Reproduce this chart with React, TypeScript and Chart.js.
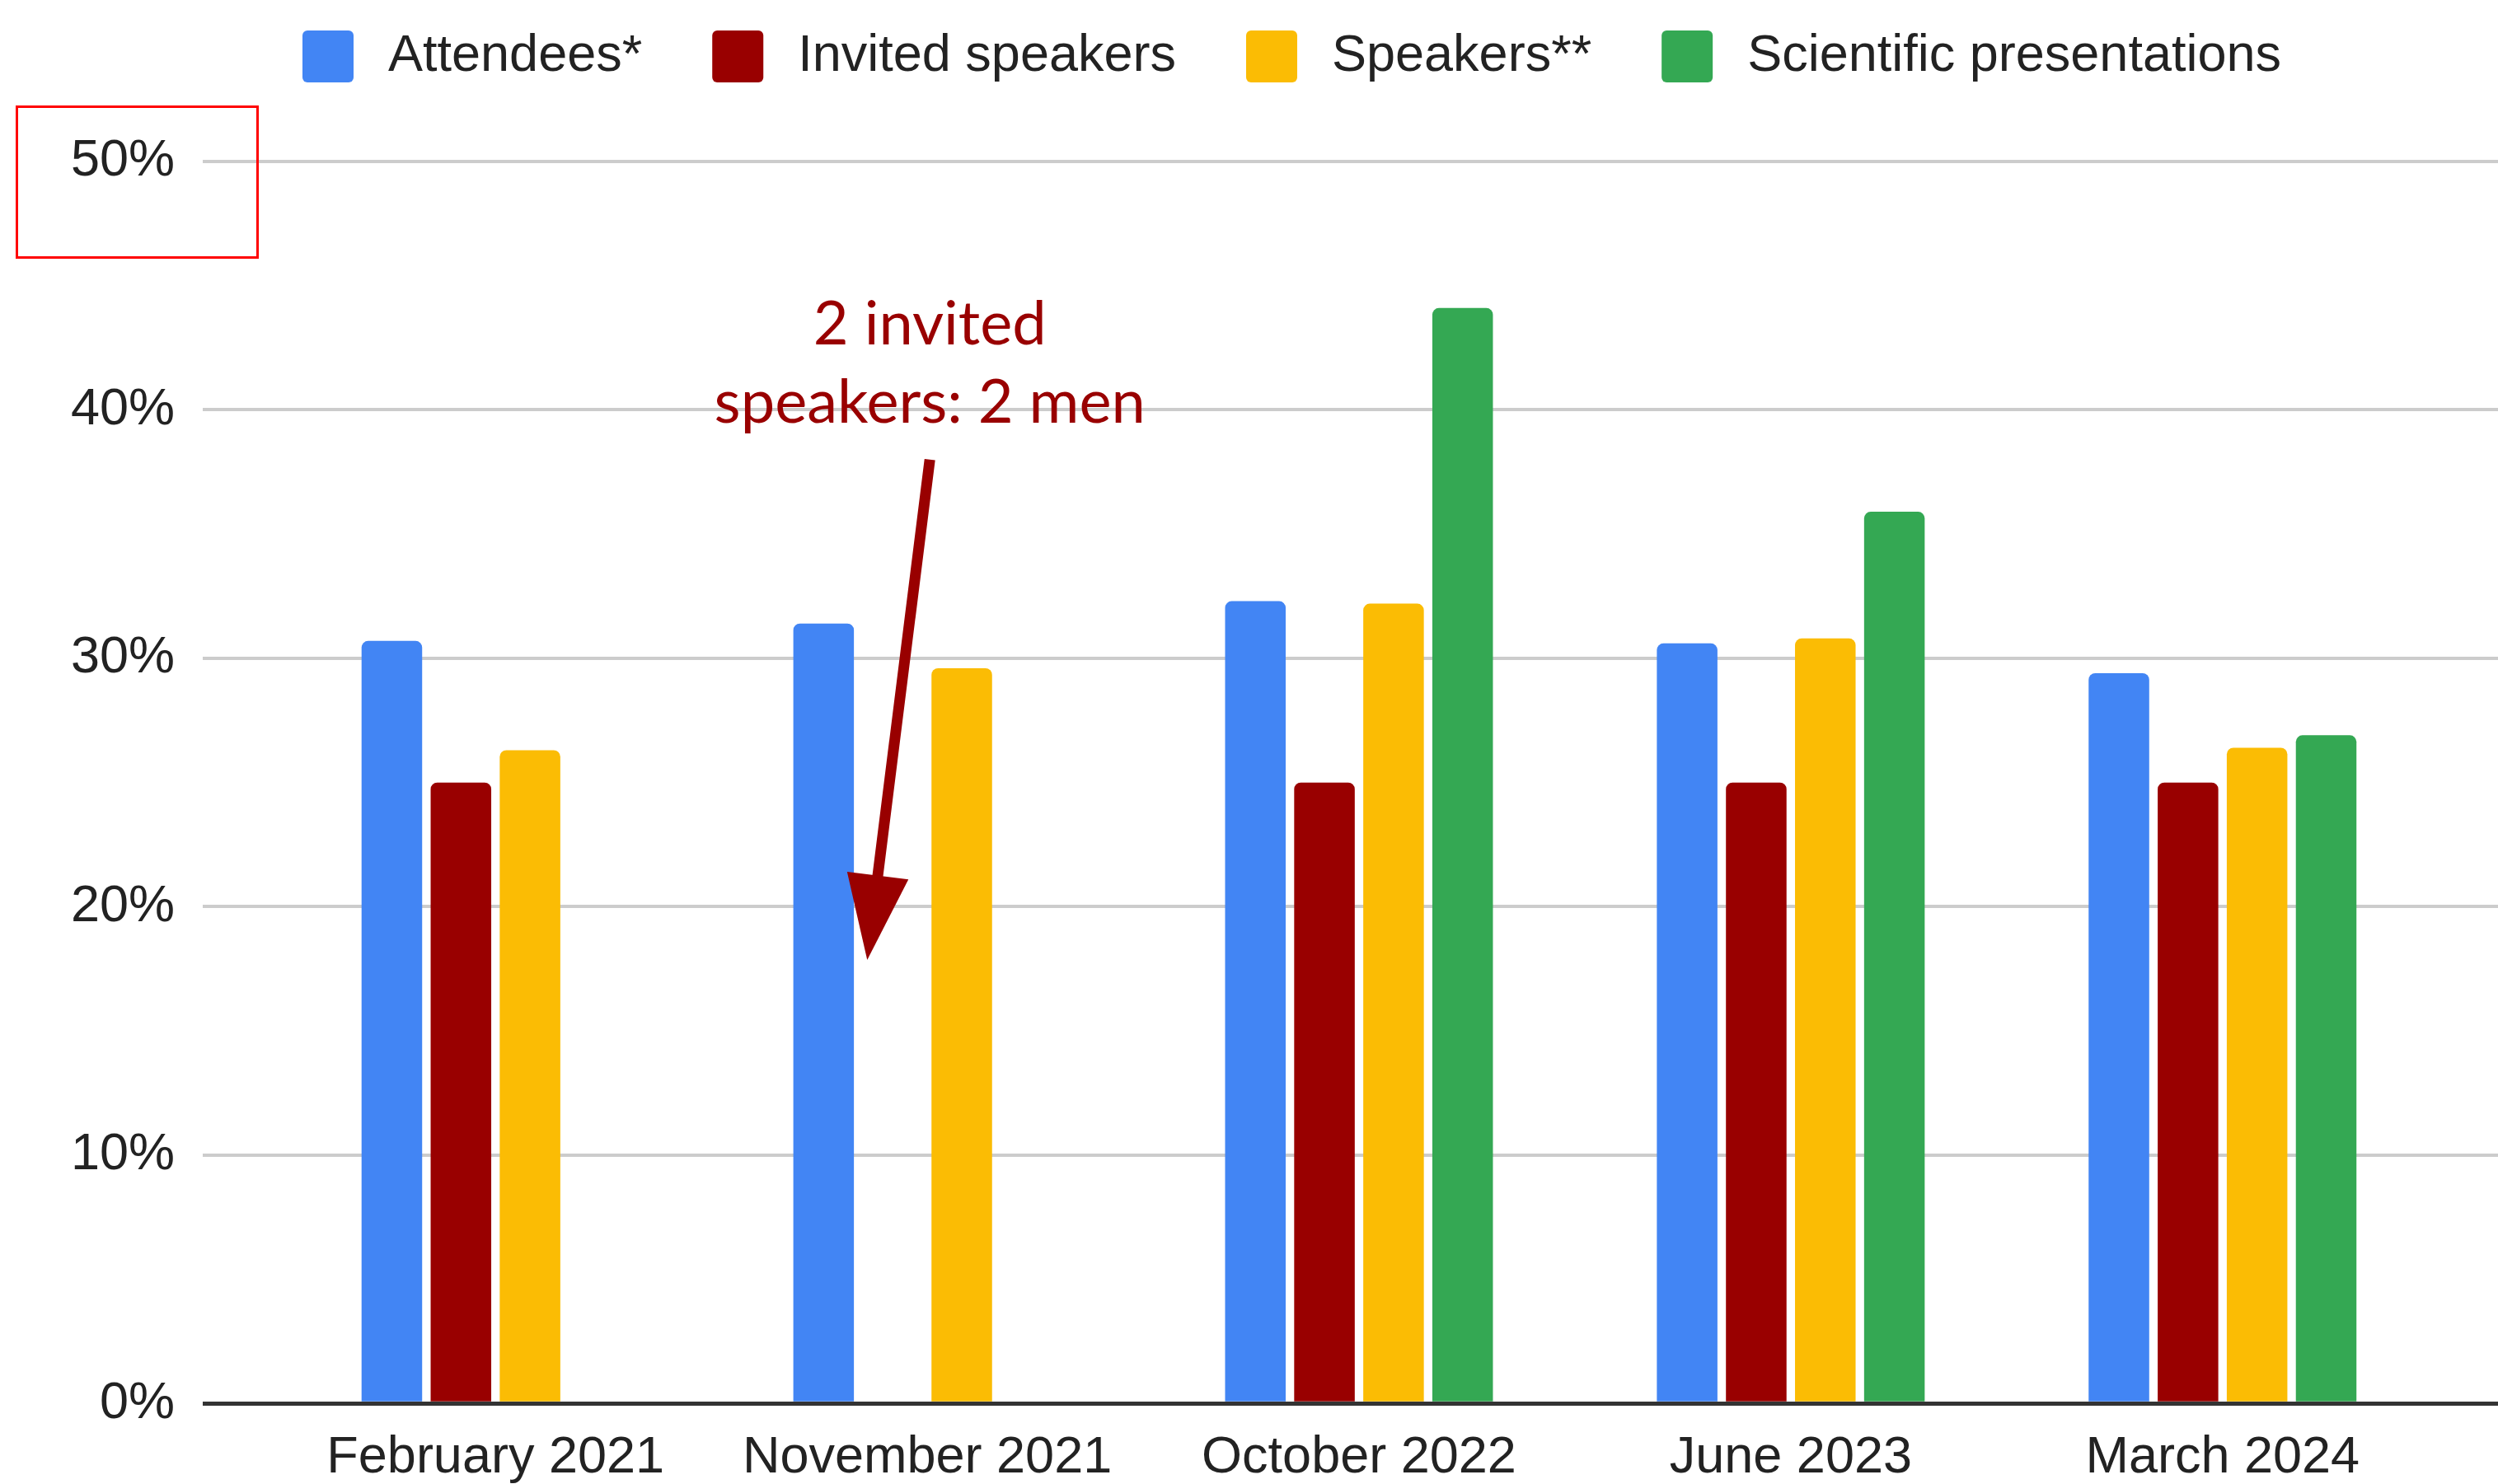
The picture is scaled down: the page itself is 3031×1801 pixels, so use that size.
import React, { useEffect, useRef } from "react";
import { Chart, registerables } from "chart.js";

Chart.register(...registerables);

// ---- data ----
const CATEGORIES = ["February 2021", "November 2021", "October 2022", "June 2023", "March 2024"];
const SERIES_NAMES = ["Attendees*", "Invited speakers", "Speakers**", "Scientific presentations"];
const SERIES_COLORS = ["#4285F4", "#990000", "#FBBC04", "#34A853"];
const ATTENDEES = [30.7, 31.4, 32.3, 30.6, 29.4];
const INVITED_SPEAKERS = [25, 0, 25, 25, 25];
const SPEAKERS = [26.3, 29.6, 32.2, 30.8, 26.4];
const SCIENTIFIC_PRESENTATIONS: (number | null)[] = [null, null, 44.1, 35.9, 26.9];
const SERIES_VALUES = [ATTENDEES, INVITED_SPEAKERS, SPEAKERS, SCIENTIFIC_PRESENTATIONS];
const Y_TICK_STEP = 10;
const Y_MAX = 50;

// Note pointing at the empty November 2021 slot (positions in data units)
const NOTE_LINES = ["2 invited", "speakers: 2 men"];
const NOTE_TEXT_X = 1.006;
const NOTE_LINE_Y = [42.65, 39.48];
const NOTE_ARROW_FROM = { x: 1.006, y: 38.0 };
const NOTE_ARROW_TO = { x: 0.861, y: 17.86 };

// ---- styling ----
const FONT = '"Liberation Sans", Arial, sans-serif';
const NOTE_FONT = '"Lato", "Open Sans", sans-serif';
const TEXT_COLOR = "#222222";
const NOTE_COLOR = "#990000";
const WIDTH = 3031;
const HEIGHT = 1801;

const legendPlugin = {
  id: "topLegend",
  afterDraw(chart: any) {
    const ctx: CanvasRenderingContext2D = chart.ctx;
    ctx.save();
    ctx.font = `63px ${FONT}`;
    ctx.textBaseline = "alphabetic";
    ctx.textAlign = "left";
    let x = 367;
    chart.data.datasets.forEach((ds: any) => {
      ctx.fillStyle = ds.backgroundColor;
      ctx.beginPath();
      (ctx as any).roundRect(x, 37, 62, 63, 6);
      ctx.fill();
      x += 62 + 42;
      ctx.fillStyle = TEXT_COLOR;
      ctx.fillText(ds.label, x, 86);
      x += ctx.measureText(ds.label).width + 85;
    });
    ctx.restore();
  },
};

const notePlugin = {
  id: "note",
  afterDraw(chart: any) {
    const ctx: CanvasRenderingContext2D = chart.ctx;
    const xs = chart.scales.x;
    const ys = chart.scales.y;
    ctx.save();

    // highlight frame around the top tick label
    ctx.strokeStyle = "#ff0000";
    ctx.lineWidth = 3;
    ctx.strokeRect(20.5, 129.5, 292, 183);

    // note text
    ctx.fillStyle = NOTE_COLOR;
    ctx.font = `74px ${NOTE_FONT}`;
    ctx.textAlign = "center";
    ctx.textBaseline = "alphabetic";
    NOTE_LINES.forEach((line, i) => {
      ctx.fillText(line, xs.getPixelForValue(NOTE_TEXT_X), ys.getPixelForValue(NOTE_LINE_Y[i]));
    });

    // arrow
    const x1 = xs.getPixelForValue(NOTE_ARROW_FROM.x);
    const y1 = ys.getPixelForValue(NOTE_ARROW_FROM.y);
    const x2 = xs.getPixelForValue(NOTE_ARROW_TO.x);
    const y2 = ys.getPixelForValue(NOTE_ARROW_TO.y);
    const len = Math.hypot(x2 - x1, y2 - y1);
    const dx = (x2 - x1) / len;
    const dy = (y2 - y1) / len;
    const headLen = 103;
    const headHalf = 37.5;
    const bx = x2 - dx * headLen;
    const by = y2 - dy * headLen;
    ctx.strokeStyle = NOTE_COLOR;
    ctx.lineWidth = 13;
    ctx.lineCap = "butt";
    ctx.beginPath();
    ctx.moveTo(x1, y1);
    ctx.lineTo(bx + dx * 4, by + dy * 4);
    ctx.stroke();
    ctx.beginPath();
    ctx.moveTo(x2, y2);
    ctx.lineTo(bx - dy * headHalf, by + dx * headHalf);
    ctx.lineTo(bx + dy * headHalf, by - dx * headHalf);
    ctx.closePath();
    ctx.fill();

    ctx.restore();
  },
};

export default function App() {
  const canvasRef = useRef<HTMLCanvasElement | null>(null);

  useEffect(() => {
    const canvas = canvasRef.current;
    if (!canvas) return;

    const datasets = SERIES_NAMES.map((name, s) => ({
      label: name,
      data: SERIES_VALUES[s].map((v, i) => ({ x: i, y: v })),
      backgroundColor: SERIES_COLORS[s],
      borderWidth: 0,
      borderRadius: 8,
      borderSkipped: "start" as const,
      categoryPercentage: 0.64,
      barPercentage: 0.877,
    }));

    const chart = new Chart(canvas, {
      type: "bar",
      data: { datasets: datasets as any },
      options: {
        responsive: false,
        animation: false,
        devicePixelRatio: 1,
        layout: { padding: { top: 196, left: 0, right: 0, bottom: 0 } },
        plugins: {
          legend: { display: false },
          tooltip: { enabled: false },
        },
        scales: {
          x: {
            type: "linear",
            min: -0.678,
            max: 4.638,
            offset: false,
            grid: { display: false, offset: false },
            border: { display: false },
            afterBuildTicks: (scale: any) => {
              scale.ticks = CATEGORIES.map((_, i) => ({ value: i }));
            },
            afterFit: (scale: any) => {
              scale.height = 97.7;
            },
            ticks: {
              autoSkip: false,
              maxRotation: 0,
              minRotation: 0,
              padding: 21,
              color: TEXT_COLOR,
              font: { family: FONT, size: 63 },
              callback: (v: any) => CATEGORIES[v as number] ?? "",
            },
          },
          y: {
            type: "linear",
            min: 0,
            max: Y_MAX,
            border: { display: false },
            grid: {
              drawTicks: false,
              color: (c: any) => (c.tick && c.tick.value === 0 ? "#333333" : "#cccccc"),
              lineWidth: (c: any) => (c.tick && c.tick.value === 0 ? 5 : 4),
            },
            afterFit: (scale: any) => {
              scale.width = 246;
            },
            ticks: {
              stepSize: Y_TICK_STEP,
              padding: 34,
              color: TEXT_COLOR,
              font: { family: FONT, size: 63 },
              callback: (v: any) => `${v}%`,
            },
          },
        },
      },
      plugins: [legendPlugin, notePlugin],
    });

    return () => chart.destroy();
  }, []);

  return (
    <div style={{ position: "fixed", left: 0, top: 0, width: WIDTH, height: HEIGHT, background: "#ffffff" }}>
      <canvas ref={canvasRef} width={WIDTH} height={HEIGHT} style={{ display: "block" }} />
    </div>
  );
}
